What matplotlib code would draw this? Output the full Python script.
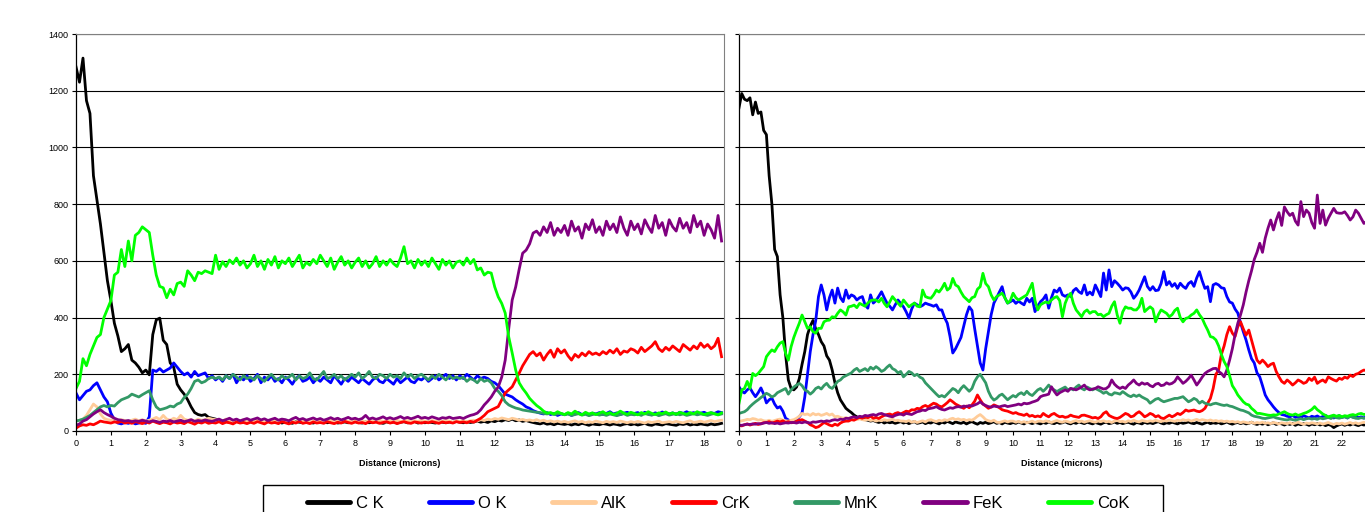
import numpy as np
import matplotlib
matplotlib.use("Agg")
import matplotlib.pyplot as plt
from matplotlib.patches import Rectangle

plt.rcParams['font.family'] = ['Liberation Sans', 'DejaVu Sans']

# line scan counts, sampled every 0.1 micron
step = 0.1

# ---- first scan (0 - 18.5 microns) ----
ck_a = [1284, 1230, 1315, 1165, 1120, 900, 815, 730, 630, 530,
        460, 380, 335, 280, 290, 305, 250, 240, 225, 205,
        215, 198, 340, 392, 398, 320, 305, 240, 225, 165,
        145, 130, 110, 85, 65, 58, 55, 58, 48, 45,
        42, 38, 35, 33, 36, 30, 34, 31, 35, 29,
        33, 30, 36, 32, 29, 34, 31, 30, 35, 28,
        32, 30, 27, 33, 31, 29, 34, 30, 28, 32,
        30, 33, 29, 31, 35, 28, 30, 32, 29, 31,
        33, 30, 28, 32, 29, 31, 34, 30, 27, 31,
        30, 32, 28, 31, 33, 29, 30, 34, 28, 31,
        29, 32, 30, 28, 33, 31, 29, 32, 30, 34,
        31, 29, 33, 30, 32, 35, 31, 34, 30, 36,
        33, 38, 35, 40, 37, 42, 36, 39, 34, 37,
        33, 30, 27, 25, 29, 24, 26, 22, 27, 25,
        23, 26, 21, 25, 22, 27, 24, 20, 25, 23,
        22, 26, 24, 21, 25, 23, 20, 24, 26, 22,
        25, 21, 24, 27, 22, 20, 25, 23, 21, 26,
        24, 22, 20, 25, 23, 26, 21, 24, 22, 25,
        23, 21, 25, 22, 24, 27]
ok_a = [134, 110, 125, 140, 145, 160, 170, 145, 120, 103,
        63, 40, 28, 25, 30, 27, 32, 25, 28, 30,
        27, 50, 215, 210, 220, 208, 215, 222, 240, 225,
        210, 198, 205, 190, 210, 195, 200, 205, 185, 195,
        180, 190, 175, 195, 185, 200, 170, 190, 180, 195,
        175, 185, 200, 170, 190, 180, 195, 175, 185, 170,
        190, 180, 165, 185, 195, 175, 180, 190, 170, 185,
        175, 190, 180, 170, 195, 180, 165, 185, 175, 190,
        180, 170, 185, 175, 165, 180, 190, 175, 170, 185,
        175, 165, 185, 170, 180, 190, 175, 170, 185, 180,
        190, 175, 185, 195, 180, 190, 200, 185, 195, 180,
        195, 185, 200, 190, 180, 195, 185, 190, 185, 175,
        170, 160, 145, 130, 125, 120, 110, 102, 95, 85,
        80, 72, 67, 63, 60, 65, 58, 62, 55, 60,
        58, 62, 55, 60, 65, 58, 62, 57, 63, 60,
        65, 58, 62, 68, 60, 64, 58, 63, 66, 60,
        62, 65, 59, 66, 61, 57, 64, 60, 67, 62,
        60, 64, 58, 66, 62, 68, 61, 65, 59, 63,
        66, 60, 64, 62, 68, 65]
alk_a = [35, 38, 42, 55, 75, 95, 85, 60, 45, 40,
         38, 42, 35, 40, 37, 33, 38, 42, 36, 40,
         35, 38, 42, 48, 40, 55, 42, 38, 45, 40,
         55, 42, 38, 40, 35, 42, 38, 40, 45, 42,
         40, 38, 35, 42, 37, 33, 38, 35, 40, 32,
         36, 33, 38, 35, 30, 37, 34, 39, 32, 36,
         33, 38, 35, 31, 36, 34, 38, 32, 35, 37,
         34, 30, 36, 38, 33, 35, 31, 37, 34, 36,
         38, 33, 36, 32, 37, 35, 33, 38, 34, 31,
         36, 34, 38, 33, 35, 37, 32, 36, 34, 38,
         35, 32, 37, 34, 36, 33, 38, 35, 31, 36,
         34, 37, 33, 36, 38, 35, 40, 37, 42, 39,
         44, 41, 46, 43, 40, 45, 42, 38, 41, 37,
         39, 36, 40, 35, 38, 33, 36, 32, 35, 31,
         34, 30, 33, 36, 31, 34, 29, 33, 30, 35,
         32, 29, 34, 31, 33, 30, 35, 32, 29, 33,
         30, 34, 31, 28, 33, 30, 32, 35, 29, 31,
         33, 30, 34, 31, 29, 33, 36, 30, 32, 35,
         31, 34, 37, 33, 36, 38]
crk_a = [10, 18, 22, 20, 25, 22, 28, 35, 32, 30,
         28, 32, 30, 34, 28, 31, 27, 33, 30, 26,
         32, 28, 35, 30, 26, 31, 29, 25, 32, 28,
         30, 26, 33, 29, 24, 31, 28, 33, 27, 30,
         28, 33, 26, 31, 29, 25, 32, 28, 30, 26,
         31, 27, 33, 29, 25, 32, 28, 30, 26, 33,
         29, 25, 31, 28, 34, 27, 30, 26, 32, 28,
         30, 27, 33, 29, 26, 31, 28, 34, 30, 27,
         32, 28, 30, 26, 33, 29, 31, 27, 30, 33,
         28, 31, 26, 30, 33, 29, 27, 32, 30, 28,
         31, 29, 33, 30, 27, 32, 29, 31, 28, 33,
         30, 32, 29, 34, 31, 38, 45, 55, 68, 74,
         80, 86, 110, 134, 145, 156, 180, 204, 230, 250,
         270, 280, 265, 275, 250, 270, 285, 260, 290, 275,
         286, 265, 250, 270, 260, 275, 265, 280, 270, 275,
         268, 280, 272, 285, 275, 290, 270, 282, 278, 290,
         285, 275, 295, 280, 290, 300, 315, 290, 280, 295,
         285, 300, 290, 280, 305, 295, 285, 300, 290, 310,
         295, 305, 290, 300, 327, 262]
mnk_a = [35, 38, 42, 48, 55, 65, 75, 85, 90, 85,
         90, 88, 100, 110, 115, 120, 130, 125, 120, 128,
         135, 142, 110, 85, 75, 78, 82, 88, 85, 95,
         100, 118, 130, 150, 175, 180, 170, 175, 185, 190,
         185, 190, 180, 195, 185, 200, 190, 180, 195, 185,
         190, 180, 195, 185, 175, 190, 200, 185, 180, 195,
         185, 190, 200, 180, 195, 185, 190, 205, 185, 180,
         195, 210, 185, 190, 200, 185, 195, 180, 190, 200,
         190, 205, 185, 195, 210, 190, 185, 200, 195, 185,
         200, 190, 195, 185, 205, 190, 200, 185, 195, 200,
         190, 180, 195, 185, 200, 190, 180, 195, 185, 190,
         185, 190, 175, 185, 180, 170, 185, 175, 180, 170,
         150, 140, 125, 103, 92, 86, 81, 78, 74, 72,
         70, 68, 66, 65, 62, 60, 63, 58, 60, 62,
         57, 60, 55, 58, 61, 56, 59, 54, 58, 60,
         56, 59, 55, 60, 57, 54, 58, 61, 55, 59,
         57, 60, 55, 62, 58, 56, 60, 54, 58, 61,
         56, 59, 62, 57, 60, 55, 58, 61, 57, 60,
         58, 55, 59, 62, 57, 60]
fek_a = [20, 25, 35, 40, 50, 60, 68, 75, 65, 58,
         52, 45, 40, 38, 35, 37, 33, 36, 34, 38,
         35, 32, 36, 34, 30, 35, 33, 37, 32, 35,
         38, 33, 36, 40, 34, 37, 35, 39, 36, 34,
         38, 42, 36, 40, 45, 38, 42, 36, 40, 44,
         38, 42, 46, 39, 43, 37, 41, 45, 38, 42,
         40, 36, 43, 48, 40, 44, 38, 42, 46, 40,
         44, 38, 42, 47, 41, 45, 39, 43, 48, 42,
         45, 40, 44, 55, 42, 46, 41, 45, 50, 43,
         47, 42, 46, 51, 44, 48, 43, 47, 52, 45,
         48, 44, 50, 46, 42, 47, 45, 49, 44, 46,
         48, 44, 50, 55, 58, 63, 75, 92, 105, 120,
         140, 155, 190, 250, 360, 462, 508, 570, 627, 638,
         660, 698, 705, 690, 720, 700, 735, 690, 715, 700,
         725, 690, 740, 705, 720, 680, 730, 710, 745, 700,
         720, 690, 740, 710, 730, 700, 755, 715, 690, 740,
         710, 730, 695, 745, 720, 700, 760, 715, 735, 690,
         745, 720, 705, 750, 715, 735, 700, 760, 720, 740,
         690, 730, 710, 680, 760, 670]
cok_a = [150, 175, 255, 230, 270, 300, 330, 340, 400, 430,
         460, 550, 560, 640, 580, 670, 600, 690, 700, 720,
         710, 700, 620, 550, 510, 505, 470, 500, 480, 520,
         525, 510, 565, 550, 530, 560, 555, 565, 560, 555,
         620, 570, 597, 580, 603, 590, 610, 585, 600, 575,
         590, 620, 580, 600, 570, 605, 585, 615, 575, 600,
         590, 610, 580, 600, 620, 575, 595, 585, 605, 590,
         620, 600, 580, 610, 570, 595, 615, 585, 600, 575,
         595, 610, 580, 600, 575, 590, 615, 580, 600, 585,
         605, 590, 580, 610, 650, 590, 600, 575, 605, 585,
         600, 580, 610, 590, 570, 605, 585, 600, 575, 595,
         600, 585, 610, 590, 605, 568, 575, 550, 560, 557,
         508, 473, 450, 416, 332, 275, 215, 170, 150, 134,
         115, 102, 90, 81, 70, 63, 65, 60, 68, 62,
         58, 65, 60, 70, 62, 57, 66, 60, 64, 58,
         63, 68, 60, 65, 58, 62, 70, 63, 59, 66,
         62, 57, 65, 60, 68, 62, 58, 64, 61, 67,
         60, 64, 58, 66, 62, 59, 65, 60, 68, 63,
         58, 62, 65, 60, 57, 64]

# ---- second scan (0 - 22.9 microns) ----
ck_b = [1140, 1190, 1170, 1165, 1175, 1115, 1160, 1120, 1125, 1060,
        1045, 900, 800, 640, 615, 480, 400, 270, 180, 150,
        145, 155, 185, 235, 280, 340, 370, 390, 360, 340,
        315, 300, 265, 250, 215, 170, 135, 110, 95, 80,
        72, 65, 56, 50, 45, 42, 40, 38, 35, 37,
        33, 30, 34, 28, 32, 29, 31, 27, 30, 33,
        28, 31, 26, 30, 33, 27, 29, 32, 26, 30,
        28, 33, 29, 25, 31, 28, 34, 30, 26, 32,
        29, 27, 31, 25, 30, 33, 28, 24, 30, 27,
        31, 26, 29, 33, 27, 30, 25, 31, 28, 26,
        30, 27, 32, 28, 25, 31, 29, 26, 30, 28,
        25, 30, 27, 32, 28, 26, 31, 27, 29, 33,
        28, 25, 30, 27, 32, 29, 26, 31, 28, 25,
        30, 27, 24, 29, 31, 26, 28, 32, 27, 30,
        26, 29, 31, 27, 24, 30, 28, 25, 31, 27,
        29, 26, 30, 33, 28, 25, 29, 27, 31, 28,
        25, 30, 27, 29, 32, 28, 26, 30, 27, 24,
        28, 31, 26, 29, 27, 30, 25, 28, 32, 27,
        24, 28, 30, 26, 29, 25, 27, 31, 26, 23,
        27, 24, 28, 22, 26, 29, 23, 27, 25, 21,
        26, 23, 27, 20, 25, 22, 26, 24, 20, 25,
        22, 26, 21, 24, 19, 23, 20, 12, 18, 22,
        25, 20, 24, 21, 26, 22, 19, 24, 21, 23]
ok_b = [156, 140, 134, 145, 152, 135, 121, 135, 152, 130,
        99, 110, 116, 95, 81, 86, 70, 45, 39, 33,
        36, 39, 50, 63, 120, 200, 280, 340, 390, 474,
        515, 480, 427, 470, 497, 451, 504, 470, 456, 497,
        468, 480, 475, 462, 470, 474, 445, 433, 480, 451,
        460, 475, 491, 470, 451, 440, 427, 445, 462, 450,
        438, 420, 398, 430, 451, 445, 438, 443, 451, 447,
        444, 440, 445, 427, 427, 400, 380, 333, 275, 290,
        310, 330, 370, 410, 438, 425, 360, 300, 240, 215,
        290, 350, 410, 451, 470, 490, 509, 470, 451, 456,
        462, 450, 458, 451, 445, 468, 455, 468, 421, 440,
        456, 465, 480, 433, 470, 497, 490, 504, 480, 475,
        480, 474, 495, 503, 491, 485, 515, 480, 490, 480,
        515, 495, 474, 557, 497, 568, 509, 530, 521, 510,
        497, 505, 503, 490, 468, 480, 497, 520, 544, 510,
        497, 509, 495, 497, 520, 562, 515, 527, 510, 520,
        503, 521, 510, 503, 520, 527, 510, 540, 562, 530,
        503, 509, 456, 515, 520, 515, 505, 503, 474, 455,
        451, 430, 416, 381, 350, 321, 286, 255, 240, 205,
        191, 160, 127, 110, 98, 85, 74, 65, 58, 56,
        52, 50, 55, 48, 52, 47, 54, 50, 46, 52,
        49, 53, 47, 51, 55, 48, 52, 46, 50, 54,
        48, 51, 46, 53, 49, 52, 47, 50, 46, 51]
alk_b = [33, 36, 38, 41, 40, 44, 42, 38, 40, 36,
         35, 38, 34, 37, 40, 42, 38, 36, 35, 38,
         40, 45, 52, 62, 58, 60, 55, 62, 57, 60,
         55, 58, 62, 56, 60, 50, 52, 48, 45, 47,
         45, 42, 44, 40, 43, 40, 38, 41, 37, 39,
         35, 38, 36, 40, 37, 39, 42, 36, 38, 35,
         35, 33, 37, 31, 34, 30, 33, 36, 32, 38,
         40, 36, 33, 38, 35, 40, 37, 42, 45, 40,
         43, 39, 41, 37, 40, 38, 44, 52, 58, 50,
         40, 36, 34, 38, 31, 30, 33, 36, 32, 35,
         35, 31, 34, 30, 33, 29, 32, 35, 30, 34,
         35, 32, 36, 33, 30, 34, 37, 33, 31, 35,
         33, 30, 34, 37, 32, 35, 31, 34, 36, 33,
         31, 35, 33, 36, 32, 34, 30, 35, 37, 33,
         34, 31, 36, 33, 38, 34, 32, 37, 35, 33,
         36, 34, 38, 35, 33, 37, 35, 39, 36, 34,
         38, 36, 40, 37, 39, 35, 38, 41, 37, 40,
         38, 36, 39, 35, 37, 34, 36, 33, 35, 32,
         34, 31, 33, 29, 32, 30, 28, 31, 27, 30,
         28, 31, 27, 29, 26, 30, 28, 25, 29, 27,
         26, 29, 25, 28, 31, 27, 24, 28, 26, 29,
         27, 25, 28, 24, 27, 30, 26, 23, 27, 25,
         28, 24, 27, 30, 26, 29, 25, 28, 31, 27]
crk_b = [20, 18, 22, 25, 21, 24, 27, 23, 26, 29,
         30, 33, 28, 31, 35, 32, 36, 30, 33, 29,
         30, 34, 38, 40, 35, 30, 22, 18, 12, 15,
         22, 30, 26, 21, 18, 24, 20, 28, 33, 35,
         35, 40, 38, 44, 48, 45, 50, 47, 52, 45,
         48, 44, 50, 55, 58, 60, 56, 62, 65, 60,
         65, 70, 68, 75, 74, 80, 78, 86, 90, 85,
         92, 98, 95, 88, 85, 92, 100, 110, 103, 95,
         90, 85, 80, 88, 82, 92, 105, 127, 110, 95,
         88, 80, 85, 92, 88, 82, 75, 72, 70, 66,
         62, 65, 60, 58, 55, 60, 52, 55, 50, 53,
         50, 62, 55, 50, 58, 62, 55, 50, 52, 48,
         50, 56, 52, 50, 48, 55, 56, 53, 50, 46,
         48, 44, 50, 62, 68, 55, 50, 46, 44, 48,
         55, 62, 58, 50, 53, 62, 68, 60, 50, 55,
         62, 58, 50, 54, 46, 44, 50, 56, 50, 55,
         62, 58, 65, 74, 70, 72, 74, 70, 68, 72,
         80, 98, 115, 150, 200, 215, 270, 300, 340, 368,
         345, 333, 368, 385, 360, 338, 356, 321, 286, 250,
         239, 250, 240, 227, 235, 239, 210, 191, 175, 168,
         180, 172, 162, 170, 180, 175, 168, 172, 186, 178,
         190, 168, 175, 180, 172, 191, 185, 180, 176, 186,
         182, 190, 186, 197, 192, 200, 203, 210, 215, 212]
mnk_b = [62, 65, 68, 75, 86, 95, 103, 110, 118, 125,
         133, 128, 120, 125, 135, 140, 145, 150, 130, 145,
         155, 162, 168, 160, 145, 140, 130, 138, 150, 155,
         148, 160, 168, 155, 150, 162, 175, 180, 190, 195,
         200, 205, 215, 221, 210, 215, 220, 212, 225, 218,
         227, 220, 210, 215, 225, 233, 220, 215, 205, 210,
         191, 200, 210, 205, 195, 200, 190, 185, 170, 160,
         150, 140, 130, 121, 125, 120, 130, 140, 150, 145,
         135, 150, 160, 150, 140, 150, 175, 191, 200, 185,
         170, 140, 120, 109, 115, 125, 130, 120, 110, 118,
         125, 120, 130, 135, 128, 140, 130, 125, 135, 145,
         150, 140, 150, 162, 150, 145, 139, 145, 150, 155,
         145, 150, 145, 155, 162, 150, 145, 155, 150, 145,
         150, 145, 140, 133, 138, 130, 127, 135, 133, 130,
         139, 132, 125, 121, 127, 122, 127, 120, 115, 110,
         98, 105, 112, 115, 108, 103, 106, 109, 112, 115,
         115, 118, 121, 112, 103, 108, 115, 110, 98, 105,
         98, 95, 92, 96, 98, 95, 92, 90, 92, 88,
         86, 82, 78, 74, 72, 68, 64, 56, 52, 50,
         48, 45, 44, 46, 48, 50, 46, 44, 42, 40,
         39, 42, 40, 38, 41, 44, 40, 43, 45, 42,
         44, 41, 46, 43, 45, 48, 44, 50, 47, 45,
         48, 50, 46, 52, 48, 45, 44, 47, 45, 46]
fek_b = [21, 20, 22, 24, 23, 25, 24, 26, 25, 28,
         30, 27, 29, 26, 28, 25, 27, 29, 28, 30,
         30, 28, 31, 29, 32, 30, 28, 32, 31, 33,
         35, 33, 36, 34, 38, 40, 38, 42, 40, 45,
         44, 48, 50, 47, 52, 50, 55, 53, 56, 58,
         55, 60, 62, 58, 55, 52, 50, 55, 58, 60,
         56, 62, 60, 58, 63, 68, 70, 74, 72, 78,
         80, 82, 86, 80, 76, 74, 78, 82, 80, 84,
         86, 84, 88, 86, 90, 88, 92, 96, 103, 95,
         90, 86, 84, 88, 86, 85, 88, 90, 86, 88,
         90, 92, 95, 92, 98, 96, 98, 102, 105, 109,
         121, 125, 127, 130, 156, 140, 127, 135, 140, 145,
         140, 150, 148, 145, 150, 155, 162, 150, 145, 148,
         150, 156, 152, 148, 150, 158, 180, 165, 156, 150,
         155, 150, 162, 170, 180, 168, 162, 170, 165, 168,
         160, 156, 165, 168, 160, 162, 170, 165, 168, 175,
         191, 180, 168, 175, 185, 197, 180, 162, 175, 190,
         203, 210, 215, 220, 221, 210, 203, 191, 215, 250,
         290, 340, 380, 410, 445, 490, 530, 565, 605, 630,
         662, 630, 680, 715, 744, 709, 744, 770, 725, 790,
         773, 760, 768, 740, 726, 809, 756, 779, 768, 735,
         715, 832, 732, 779, 726, 750, 768, 785, 770, 768,
         768, 773, 760, 744, 755, 779, 768, 750, 732, 740]
cok_b = [98, 145, 150, 175, 150, 203, 195, 203, 215, 227,
         262, 275, 286, 280, 297, 310, 315, 274, 250, 297,
         330, 356, 380, 409, 385, 362, 368, 350, 345, 362,
         362, 385, 390, 391, 403, 400, 415, 427, 420, 409,
         438, 440, 444, 435, 450, 445, 440, 451, 460, 462,
         462, 455, 468, 450, 438, 455, 474, 462, 451, 440,
         462, 450, 438, 445, 451, 440, 438, 497, 474, 470,
         468, 480, 497, 490, 503, 521, 497, 505, 538, 515,
         509, 490, 474, 465, 456, 470, 474, 500, 509, 556,
         520, 509, 480, 462, 474, 480, 486, 470, 451, 460,
         486, 470, 462, 468, 474, 480, 500, 521, 460, 427,
         445, 451, 455, 451, 462, 470, 474, 460, 403, 450,
         474, 486, 450, 427, 415, 403, 420, 427, 415, 421,
         421, 410, 412, 403, 410, 415, 440, 456, 409, 380,
         420, 438, 433, 433, 427, 427, 438, 468, 421, 430,
         438, 430, 385, 410, 427, 421, 415, 403, 410, 425,
         433, 400, 385, 397, 400, 409, 415, 427, 410, 397,
         375, 356, 333, 330, 321, 300, 270, 245, 227, 195,
         160, 145, 127, 115, 103, 95, 92, 80, 72, 62,
         62, 60, 58, 56, 55, 57, 56, 60, 64, 68,
         62, 58, 56, 60, 55, 58, 62, 65, 70, 76,
         86, 75, 68, 60, 55, 50, 53, 56, 52, 55,
         50, 54, 52, 56, 58, 55, 60, 62, 58, 60]

names = ["C K", "O K", "AlK", "CrK", "MnK", "FeK", "CoK"]
colors = ["#000000", "#0000FF", "#FFCC99", "#FF0000", "#339966", "#800080", "#00FF00"]
scan_a = [ck_a, ok_a, alk_a, crk_a, mnk_a, fek_a, cok_a]
scan_b = [ck_b, ok_b, alk_b, crk_b, mnk_b, fek_b, cok_b]

W, H = 1365, 512
fig = plt.figure(figsize=(W / 100, H / 100), dpi=100)
bottom = (H - 431) / H
height = (431 - 34) / H
ax1 = fig.add_axes([76 / W, bottom, (724 - 76) / W, height])
ax2 = fig.add_axes([739 / W, bottom, (1385 - 739) / W, height])


def draw_scan(ax, scan, xmax, last_tick, ylabels):
    lines = []
    for vals, name, col in zip(scan, names, colors):
        x = np.arange(len(vals)) * step
        ln, = ax.plot(x, vals, color=col, lw=2.0, label=name)
        lines.append(ln)
    ax.set_xlim(0, xmax)
    ax.set_ylim(0, 1400)
    ax.set_xticks(range(last_tick + 1))
    ax.set_yticks(range(0, 1401, 200))
    ax.yaxis.grid(True, color="black", lw=0.8)
    ax.set_axisbelow(True)
    ax.tick_params(axis="both", direction="out", length=3, width=0.8,
                   labelsize=6.5, pad=2.5)
    if not ylabels:
        ax.tick_params(axis="y", labelleft=False)
    for s in ("top", "right"):
        ax.spines[s].set_color("#808080")
    for s in ("left", "bottom"):
        ax.spines[s].set_color("black")
        ax.spines[s].set_linewidth(0.9)
    ax.set_xlabel("Distance (microns)", fontsize=6.5, fontweight="bold",
                  labelpad=8)
    return lines


handles = draw_scan(ax1, scan_a, 18.57, 18, True)
draw_scan(ax2, scan_b, 23.57, 22, False)

# legend box along the bottom edge
fig.add_artist(Rectangle((263 / W, -0.1), 900 / W, 0.1 + (H - 485) / H,
                         transform=fig.transFigure, fill=False,
                         ec="black", lw=1.0))
leg = fig.legend(handles, names, loc="center left",
                 bbox_to_anchor=(307 / W, (H - 503) / H), ncol=7,
                 frameon=False, fontsize=12, handlelength=2.6,
                 handletextpad=0.35, columnspacing=2.7,
                 borderpad=0, borderaxespad=0)
for ln in leg.get_lines():
    ln.set_linewidth(3.5)
    ln.set_solid_capstyle("round")

fig.savefig("out.png", dpi=100)
